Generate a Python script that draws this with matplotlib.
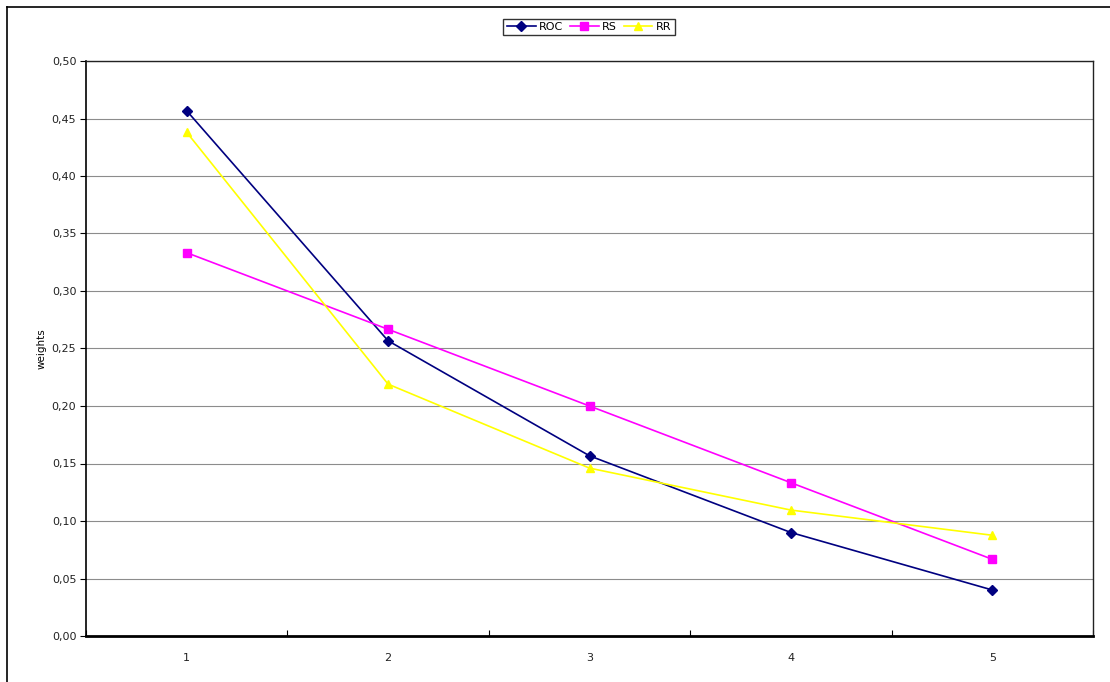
import matplotlib
matplotlib.use("Agg")
import matplotlib.pyplot as plt
from matplotlib.lines import Line2D
from matplotlib.ticker import FuncFormatter, MultipleLocator

ranks = [1, 2, 3, 4, 5]
roc = [0.4567, 0.2567, 0.1567, 0.0900, 0.0400]
rs = [0.3333, 0.2667, 0.2000, 0.1333, 0.0667]
rr = [0.4380, 0.2190, 0.1460, 0.1095, 0.0876]
tick_labels = ["1", "2", "3", "4", "5"]

fig = plt.figure(figsize=(11.10, 6.82), dpi=100)
fig.patch.set_facecolor("white")

# outer frame of the chart object
fig.add_artist(Line2D([7 / 1110, 7 / 1110], [0, 1 - 7 / 682], color="black", lw=1.2))
fig.add_artist(Line2D([7 / 1110, 1], [1 - 7 / 682, 1 - 7 / 682], color="black", lw=1.2))

ax = fig.add_axes([86 / 1110, 1 - 636 / 682, (1093 - 86) / 1110, (636 - 61) / 682])
ax.set_facecolor("white")

ax.plot(ranks, roc, color="#000080", lw=1.2, marker="D", ms=5, label="ROC", zorder=3)
ax.plot(ranks, rs, color="#FF00FF", lw=1.2, marker="s", ms=5.5, label="RS", zorder=3)
ax.plot(ranks, rr, color="#FFFF00", lw=1.2, marker="^", ms=6, label="RR", zorder=3)

ax.set_xlim(0.5, 5.5)
ax.set_ylim(0, 0.5)
ax.yaxis.set_major_locator(MultipleLocator(0.05))
ax.yaxis.set_major_formatter(FuncFormatter(lambda v, p: f"{v:.2f}".replace(".", ",")))
ax.set_xticks(ranks)
ax.set_xticklabels(tick_labels)
ax.set_xticks([0.5, 1.5, 2.5, 3.5, 4.5, 5.5], minor=True)
ax.tick_params(axis="x", which="major", length=0, pad=12, labelsize=8, labelcolor="#222222")
ax.tick_params(axis="x", which="minor", length=4, direction="in", width=0.8)
ax.tick_params(axis="y", length=4, direction="out", width=0.8, labelsize=8,
               pad=3, labelcolor="#222222")
ax.grid(axis="y", color="#8c8c8c", lw=0.8)
ax.set_axisbelow(True)
for side in ["top", "right"]:
    ax.spines[side].set_color("#222222")
    ax.spines[side].set_linewidth(1.0)
ax.spines["left"].set_linewidth(1.2)
ax.spines["bottom"].set_linewidth(2.0)
ax.set_ylabel("weights", fontsize=7.5, labelpad=4)

leg = fig.legend(loc="center", bbox_to_anchor=(589 / 1110, 1 - 27 / 682), ncol=3,
                 fontsize=8, frameon=True, fancybox=False, edgecolor="black",
                 handlelength=2.6, handletextpad=0.3, columnspacing=0.6,
                 borderpad=0.3)
leg.get_frame().set_linewidth(1.0)

fig.savefig("out.png", dpi=100, facecolor="white")
